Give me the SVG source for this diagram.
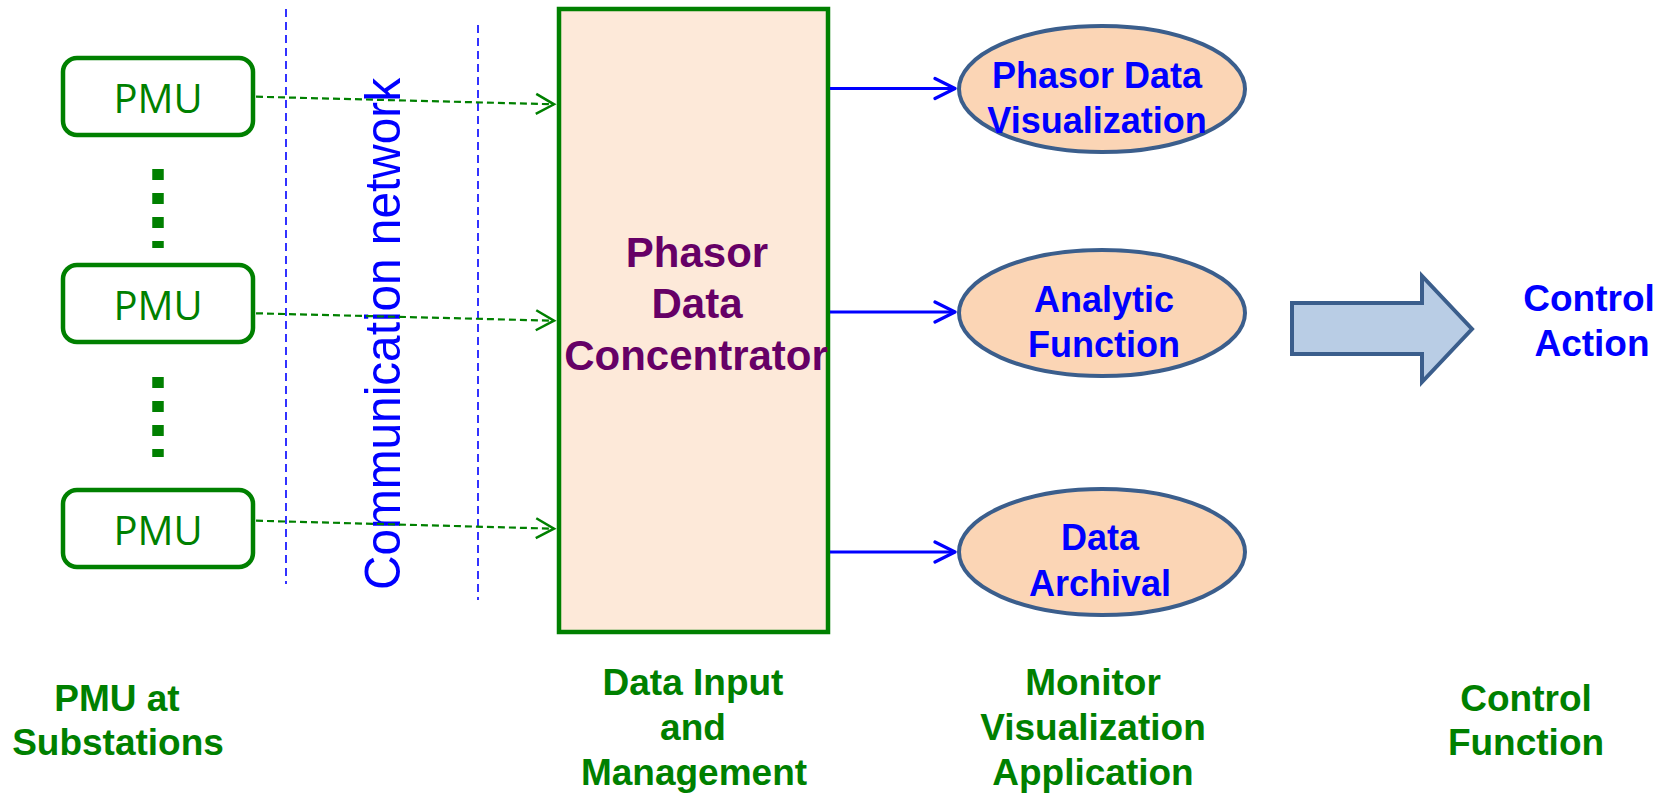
<svg xmlns="http://www.w3.org/2000/svg" width="1665" height="793" viewBox="0 0 1665 793">
<style>
.pmu rect{fill:#fff;stroke:#008000;stroke-width:4.5}
.pmu text{font-family:"Open Sans","Noto Sans",sans-serif;font-size:40px;fill:#008000;text-anchor:middle}
.dots{stroke:#008000;stroke-width:11.5;stroke-dasharray:11 13;fill:none}
.vl{stroke:#0000FF;stroke-width:1.6;stroke-dasharray:8 5;fill:none}
.gar{stroke:#008000;stroke-width:2.2;stroke-dasharray:7 4;fill:none;marker-end:url(#ga)}
.bar{stroke:#0000FF;stroke-width:3.2;fill:none;marker-end:url(#ba)}
.ell ellipse{fill:#FBD5B5;stroke:#3B5E8C;stroke-width:4}
.b{font-family:"Liberation Sans",Arial,sans-serif;font-weight:bold;text-anchor:middle}
.blue{fill:#0000FF;font-size:36px}
.green{fill:#008000;font-size:37px}
.purple{fill:#660066;font-size:42px}
</style>
<defs>
<marker id="ga" markerUnits="userSpaceOnUse" markerWidth="30" markerHeight="30" viewBox="-20 -15 30 30" refX="0" refY="0" orient="auto">
<path d="M-18,-10 L0,0 L-18,10" fill="none" stroke="#008000" stroke-width="2.5" stroke-dasharray="none"/>
</marker>
<marker id="ba" markerUnits="userSpaceOnUse" markerWidth="30" markerHeight="30" viewBox="-22 -15 30 30" refX="0" refY="0" orient="auto">
<path d="M-20,-10 L0,0 L-20,10" fill="none" stroke="#0000FF" stroke-width="3.2" stroke-linecap="round" stroke-linejoin="round"/>
</marker>
</defs>
<rect width="1665" height="793" fill="#fff"/>

<g id="network">
<line class="vl" x1="286" y1="9" x2="286" y2="584"/>
<line class="vl" x1="478" y1="25" x2="478" y2="600"/>
<text transform="translate(400,334) rotate(-90)" font-family="Liberation Sans,Arial,sans-serif" font-size="50" fill="#0000FF" text-anchor="middle" textLength="512" lengthAdjust="spacingAndGlyphs">Communication network</text>
</g>

<g id="pmu1" class="pmu"><rect x="63" y="58" width="190" height="77" rx="14"/><text x="158" y="113">PMU</text></g>
<g id="pmu2" class="pmu"><rect x="63" y="265" width="190" height="77" rx="14"/><text x="158" y="320">PMU</text></g>
<g id="pmu3" class="pmu"><rect x="63" y="490" width="190" height="77" rx="14"/><text x="158" y="545">PMU</text></g>
<g id="dots">
<line class="dots" x1="158" y1="169" x2="158" y2="248"/>
<line class="dots" x1="158" y1="377" x2="158" y2="457"/>
</g>

<g id="pdc">
<rect x="559" y="9" width="269" height="623" fill="#FDE9D9" stroke="#008000" stroke-width="4.5"/>
<text class="b purple" x="697" y="267">Phasor</text>
<text class="b purple" x="697" y="318">Data</text>
<text class="b purple" x="696" y="370">Concentrator</text>
</g>

<g id="viz" class="ell"><ellipse cx="1102" cy="89" rx="143" ry="63"/>
<text class="b blue" x="1097" y="88">Phasor Data</text>
<text class="b blue" x="1097" y="133">Visualization</text></g>
<g id="analytic" class="ell"><ellipse cx="1102" cy="313" rx="143" ry="63"/>
<text class="b blue" x="1104" y="312">Analytic</text>
<text class="b blue" x="1104" y="357">Function</text></g>
<g id="archival" class="ell"><ellipse cx="1102" cy="552" rx="143" ry="63"/>
<text class="b blue" x="1100" y="550">Data</text>
<text class="b blue" x="1100" y="596">Archival</text></g>

<g id="control">
<path d="M1292,303 L1422,303 L1422,276 L1472,329 L1422,382 L1422,354 L1292,354 Z" fill="#B9CDE5" stroke="#3B5E8C" stroke-width="4" stroke-linejoin="miter"/>
<text class="b blue" x="1589" y="311" font-size="37" style="font-size:37px">Control</text>
<text class="b blue" x="1592" y="356" style="font-size:37px">Action</text>
</g>

<g id="connectors">
<line class="gar" x1="256" y1="96.7" x2="554" y2="104.3"/>
<line class="gar" x1="256" y1="313.3" x2="554" y2="320.7"/>
<line class="gar" x1="256" y1="520.7" x2="554" y2="528.7"/>
<line class="bar" x1="830" y1="88.5" x2="955" y2="88.5"/>
<line class="bar" x1="830" y1="312" x2="955" y2="312"/>
<line class="bar" x1="830" y1="552" x2="955" y2="552"/>
</g>

<g id="labels">
<text class="b green" x="117" y="711">PMU at</text>
<text class="b green" x="118" y="755">Substations</text>
<text class="b green" x="693" y="695">Data Input</text>
<text class="b green" x="693" y="740">and</text>
<text class="b green" x="694" y="785">Management</text>
<text class="b green" x="1093" y="695">Monitor</text>
<text class="b green" x="1093" y="740">Visualization</text>
<text class="b green" x="1093" y="785">Application</text>
<text class="b green" x="1526" y="711">Control</text>
<text class="b green" x="1526" y="755">Function</text>
</g>
</svg>
